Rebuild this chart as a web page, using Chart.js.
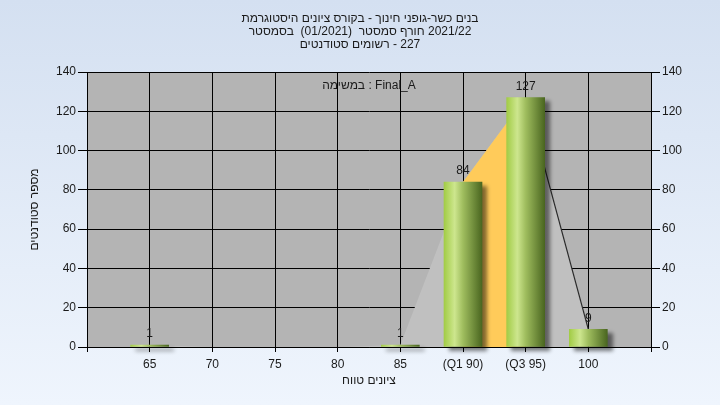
<!DOCTYPE html>
<html>
<head>
<meta charset="utf-8">
<script src="https://cdn.jsdelivr.net/npm/chart.js@4/dist/chart.umd.min.js"></script>
<style>
html,body{margin:0;padding:0;background:#fff;}
</style>
</head>
<body>
<canvas id="myChart" width="720" height="405"></canvas>
<script>
// the source chart lays its hebrew words out left to right,
// each word itself reading right to left
function wordsLtr(s) {
  return s.replace(/[\u0590-\u05FF]+/g, '\u2067$&\u2069');
}

// chart texts
var titleLines = [
  'היסטוגרמת ציונים בקורס - חינוך גופני-כשר בנים',
  'בסמסטר  (01/2021)  סמסטר חורף 2021/22',
  'סטודנטים רשומים - 227'
];
var taskLabel = 'במשימה : Final_A';
var xTitle = 'טווח ציונים';
var yTitle = 'מספר סטודנטים';

// data
var binLabels = ['65', '70', '75', '80', '85', '(Q1 90)', '(Q3 95)', '100'];
var studentCounts = [1, 0, 0, 0, 1, 84, 127, 9];
var quartileBand = [null, null, null, null, null, 84, 127, null];
var yMin = 0, yMax = 140, yStep = 20;

// pad one empty slot on each side so the grid runs edge to edge
var axisLabels = [''].concat(binLabels, ['']);
var barData = [null].concat(studentCounts, [null]);
var areaData = [null].concat(studentCounts, [null]);
var bandData = [null].concat(quartileBand, [null]);

var FONT = '"Liberation Sans", Arial, sans-serif';
var TEXT = '#1a1a1a';

function barGradient(c) {
  var chart = c.chart;
  var xs = chart.scales && chart.scales.x;
  if (!xs || c.dataIndex === undefined) return '#9fc54a';
  if (!barData[c.dataIndex]) return 'rgba(0,0,0,0)'; // no shadow for empty bins
  var cx = xs.getPixelForValue(c.dataIndex);
  if (!isFinite(cx)) return '#9fc54a';
  var g = chart.ctx.createLinearGradient(cx - 19, 0, cx + 19, 0);
  g.addColorStop(0, '#a2cc46');
  g.addColorStop(0.28, '#cde68e');
  g.addColorStop(0.5, '#9fbd5e');
  g.addColorStop(1, '#4a6620');
  return g;
}

var backdrop = {
  id: 'backdrop',
  beforeDraw: function(chart) {
    var ctx = chart.ctx, a = chart.chartArea;
    var g = ctx.createLinearGradient(0, 0, 0, chart.height);
    g.addColorStop(0, '#d4e0f1');
    g.addColorStop(1, '#eff5fd');
    ctx.save();
    ctx.fillStyle = g;
    ctx.fillRect(0, 0, chart.width, chart.height);
    ctx.fillStyle = '#b4b4b4';
    ctx.fillRect(a.left, a.top, a.right - a.left, a.bottom - a.top);
    ctx.restore();
  }
};

var barShadow = {
  id: 'barShadow',
  beforeDatasetDraw: function(chart, args) {
    if (args.index !== 0) return;
    var ctx = chart.ctx;
    ctx.save();
    ctx.shadowColor = 'rgba(0,0,0,0.5)';
    ctx.shadowOffsetX = 5;
    ctx.shadowOffsetY = 4;
    ctx.shadowBlur = 4;
  },
  afterDatasetDraw: function(chart, args) {
    if (args.index !== 0) return;
    chart.ctx.restore();
  }
};

var valueLabels = {
  id: 'valueLabels',
  afterDatasetsDraw: function(chart) {
    var ctx = chart.ctx, a = chart.chartArea;
    var meta = chart.getDatasetMeta(0);
    ctx.save();
    ctx.font = '12px ' + FONT;
    ctx.fillStyle = TEXT;
    ctx.textAlign = 'center';
    ctx.textBaseline = 'bottom';
    meta.data.forEach(function(el, i) {
      var v = barData[i];
      if (v) ctx.fillText(String(v), el.x, el.y - 5);
    });
    ctx.fillText(wordsLtr(taskLabel), (a.left + a.right) / 2, a.top + 20);
    ctx.restore();
  }
};

var ctx = document.getElementById('myChart').getContext('2d');
var chart = new Chart(ctx, {
  type: 'bar',
  data: {
    labels: axisLabels,
    datasets: [
      {
        type: 'bar',
        data: barData,
        backgroundColor: barGradient,
        borderWidth: 0,
        barThickness: 38,
        clip: false,
        order: 0
      },
      {
        type: 'line',
        data: bandData,
        fill: 'origin',
        backgroundColor: '#ffcb5a',
        borderWidth: 0,
        pointRadius: 0,
        tension: 0,
        order: 1
      },
      {
        type: 'line',
        data: areaData,
        fill: 'origin',
        backgroundColor: '#c0c0c0',
        borderWidth: 1.2,
        borderColor: 'rgba(0,0,0,0)',
        segment: {
          borderColor: function(s) { return s.p0DataIndex === 7 ? '#2a2a2a' : 'rgba(0,0,0,0)'; }
        },
        pointRadius: 0,
        tension: 0,
        order: 2
      }
    ]
  },
  options: {
    responsive: false,
    animation: false,
    layout: { padding: 0 },
    plugins: {
      legend: { display: false },
      tooltip: { enabled: false },
      title: {
        display: true,
        text: titleLines.map(wordsLtr),
        color: TEXT,
        font: { family: FONT, size: 12, weight: 'normal', lineHeight: '13px' },
        padding: { top: 12, bottom: 21 }
      }
    },
    scales: {
      x: {
        offset: false,
        grid: { offset: false, color: '#000', lineWidth: 1, tickLength: 5, tickColor: '#000' },
        border: { color: '#000', width: 1 },
        ticks: { color: TEXT, font: { family: FONT, size: 12 }, padding: 5, maxRotation: 0, autoSkip: false },
        title: {
          display: true, text: wordsLtr(xTitle), color: TEXT,
          font: { family: FONT, size: 12, lineHeight: '14px' },
          padding: { top: 0, bottom: 17 }
        },
        afterFit: function(s) { s.height = 58; }
      },
      y: {
        position: 'left',
        min: yMin, max: yMax,
        grid: { color: '#000', lineWidth: 1, tickLength: 9, tickColor: '#000' },
        border: { color: '#000', width: 1 },
        ticks: { stepSize: yStep, color: TEXT, font: { family: FONT, size: 12 }, padding: 2 },
        title: {
          display: true, text: yTitle, color: TEXT,
          font: { family: FONT, size: 12, lineHeight: '14px' },
          padding: { top: 28, bottom: 0 }
        },
        afterFit: function(s) { s.width = 87; }
      },
      y2: {
        position: 'right',
        min: yMin, max: yMax,
        grid: { drawOnChartArea: false, tickLength: 9, tickColor: '#000' },
        border: { color: '#000', width: 1 },
        ticks: { stepSize: yStep, color: TEXT, font: { family: FONT, size: 12 }, padding: 2 },
        afterFit: function(s) { s.width = 69; }
      }
    }
  },
  plugins: [backdrop, barShadow, valueLabels]
});
</script>
</body>
</html>
